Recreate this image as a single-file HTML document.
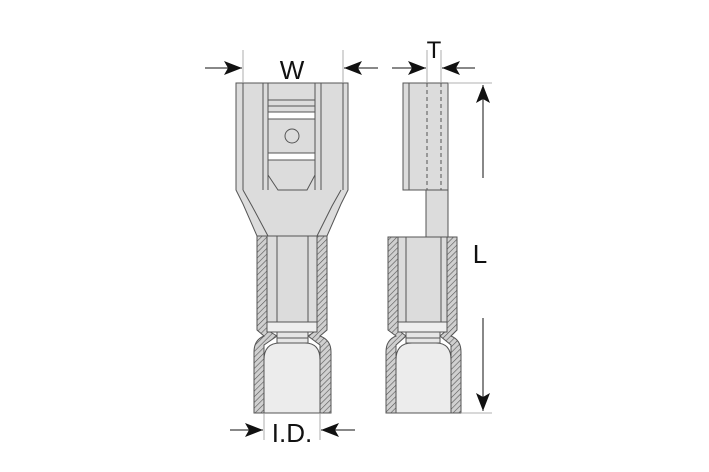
<!DOCTYPE html>
<html><head><style>body{margin:0;background:#fff}svg{display:block}text{font-family:"Liberation Sans",sans-serif;fill:#111}</style></head><body>
<svg width="709" height="472" viewBox="0 0 709 472">
<defs>
<pattern id="h" width="4" height="4" patternUnits="userSpaceOnUse" patternTransform="rotate(45)">
<rect width="4" height="4" fill="#d0d0d0"/><line x1="0" y1="0" x2="0" y2="4" stroke="#555" stroke-width="1.2"/>
</pattern>
<marker id="a" viewBox="0 0 18 14" refX="18" refY="7" markerWidth="18" markerHeight="14" markerUnits="userSpaceOnUse" orient="auto"><path d="M0,0 L18,7 L0,14 L4,7z" fill="#111"/></marker>
</defs>
<g stroke="#555" stroke-width="1" fill="#dcdcdc">
<path d="M236,83 H348 V190 L341,204 L327,236 H257 L243,204 L236,190 Z"/>
<path d="M243,83 V190 M263,83 V190 M268,83 V190 M315,83 V190 M321,83 V190 M343,83 V190" fill="none"/>
<path d="M243,190 L252,206 L268,236 M341,190 L332,206 L317,236" fill="none"/>
<rect x="268" y="100" width="47" height="6" fill="#dcdcdc"/>
<rect x="268" y="112" width="47" height="7" fill="#fff"/>
<circle cx="292" cy="136" r="7" fill="#dcdcdc"/>
<rect x="268" y="153" width="47" height="7" fill="#fff"/>
<path d="M268,175 L278,190 H307 L315,175" fill="none"/>
<path d="M257,236 H267 V330 L277,336 L264,345 Q264,345 264,413 H254 V352 Q254,340 264,336 L257,330 Z" fill="url(#h)"/>
<path d="M327,236 H317 V330 L308,336 L320,345 V413 H331 V352 Q331,340 320,336 L327,330 Z" fill="url(#h)"/>
<rect x="267" y="236" width="50" height="86" fill="#dcdcdc"/>
<path d="M277,236 V322 M308,236 V322" fill="none"/>
<rect x="267" y="322" width="50" height="10" fill="#eee"/>
<rect x="277" y="332" width="31" height="11" fill="#e6e6e6"/>
<path d="M277,338 H308" fill="none"/>
<path d="M264,413 V360 Q264,343 280,343 H305 Q320,343 320,360 V413 Z" fill="#ececec"/>
<rect x="403" y="83" width="45" height="107"/>
<path d="M409,83 V190" fill="none"/>
<path d="M427,83 V190 M441,83 V190" fill="none" stroke-dasharray="4,3"/>
<rect x="426" y="190" width="22" height="47"/>
<path d="M388,237 H398 V330 L406,336 L396,345 V413 H386 V352 Q386,340 396,336 L388,330 Z" fill="url(#h)"/>
<path d="M457,237 H447 V330 L440,336 L451,345 V413 H461 V352 Q461,340 451,336 L457,330 Z" fill="url(#h)"/>
<rect x="398" y="237" width="49" height="85"/>
<path d="M406,237 V322 M441,237 V322" fill="none"/>
<rect x="398" y="322" width="49" height="10" fill="#eee"/>
<rect x="406" y="332" width="34" height="11" fill="#e6e6e6"/>
<path d="M406,338 H440" fill="none"/>
<path d="M396,413 V360 Q396,343 412,343 H436 Q451,343 451,360 V413 Z" fill="#ececec"/>
</g>
<g stroke="#999" stroke-width="0.8" fill="none">
<path d="M243,50 V83 M343,50 V83 M264,413 V440 M320,413 V440 M427,50 V83 M441,50 V83 M448,83 H492 M461,413 H492"/>
</g>
<g stroke="#111" stroke-width="1">
<line x1="205" y1="68" x2="242" y2="68" marker-end="url(#a)"/>
<line x1="378" y1="68" x2="344" y2="68" marker-end="url(#a)"/>
<line x1="230" y1="430" x2="263" y2="430" marker-end="url(#a)"/>
<line x1="355" y1="430" x2="321" y2="430" marker-end="url(#a)"/>
<line x1="392" y1="68" x2="426" y2="68" marker-end="url(#a)"/>
<line x1="475" y1="68" x2="442" y2="68" marker-end="url(#a)"/>
<line x1="483" y1="178" x2="483" y2="85" marker-end="url(#a)"/>
<line x1="483" y1="318" x2="483" y2="411" marker-end="url(#a)"/>
</g>
<text x="292" y="79" font-size="26" text-anchor="middle">W</text>
<text x="292" y="442" font-size="26" text-anchor="middle">I.D.</text>
<text x="434" y="58" font-size="24" text-anchor="middle">T</text>
<text x="480" y="263" font-size="26" text-anchor="middle">L</text>
</svg>
</body></html>
